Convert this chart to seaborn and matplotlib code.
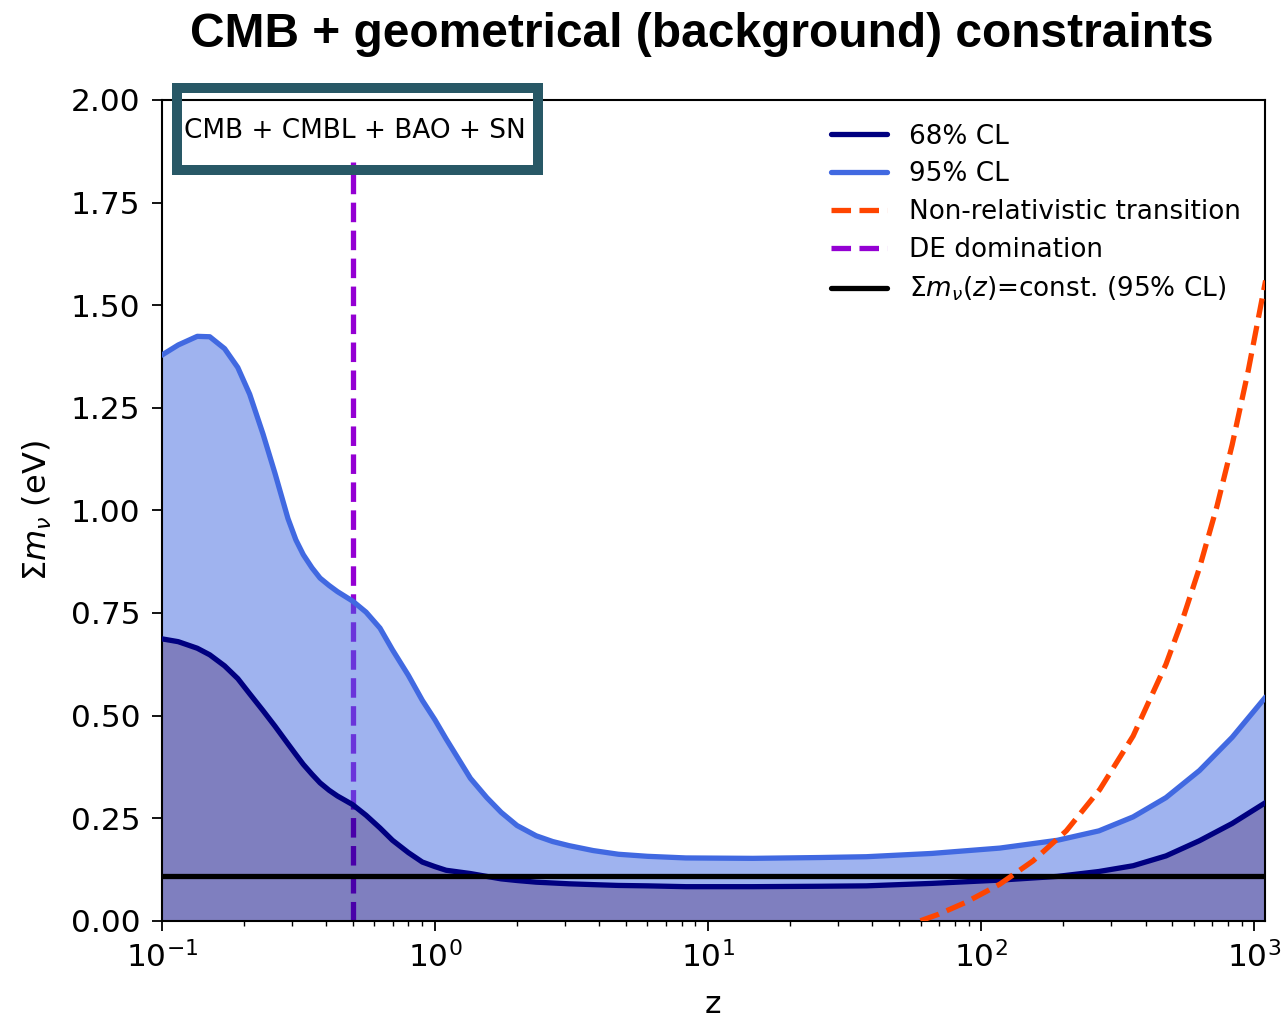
import matplotlib
matplotlib.use("Agg")
import matplotlib.pyplot as plt
from matplotlib.lines import Line2D
from matplotlib.patches import Rectangle
from matplotlib.ticker import FixedLocator, FormatStrFormatter
import pandas as pd
import seaborn as sns

# Redshift grid and the reconstructed bounds on the summed neutrino mass (eV)
z_grid = [0.10, 0.115, 0.135, 0.15, 0.17, 0.19, 0.21, 0.235, 0.26, 0.29,
          0.31, 0.33, 0.355, 0.38, 0.41, 0.44, 0.50, 0.56, 0.63, 0.70,
          0.80, 0.90, 1.0, 1.1, 1.35, 1.55, 1.75, 2.0, 2.35, 2.7,
          3.1, 3.8, 4.7, 6.0, 8.3, 14.6, 25.6, 38.0, 66.0, 117.0,
          190.0, 270.0, 360.0, 475.0, 630.0, 830.0, 1100.0]
mnu_95 = [1.378, 1.403, 1.424, 1.423, 1.394, 1.348, 1.283, 1.186, 1.090, 0.980,
          0.928, 0.892, 0.860, 0.835, 0.817, 0.802, 0.779, 0.752, 0.713, 0.660,
          0.598, 0.537, 0.490, 0.443, 0.347, 0.300, 0.264, 0.232, 0.207, 0.193,
          0.183, 0.171, 0.162, 0.157, 0.153, 0.152, 0.154, 0.156, 0.164, 0.177,
          0.196, 0.219, 0.253, 0.300, 0.366, 0.447, 0.545]
mnu_68 = [0.687, 0.680, 0.664, 0.648, 0.621, 0.590, 0.553, 0.512, 0.474, 0.431,
          0.405, 0.381, 0.357, 0.336, 0.318, 0.304, 0.283, 0.257, 0.226, 0.196,
          0.166, 0.143, 0.132, 0.123, 0.115, 0.108, 0.102, 0.098, 0.094, 0.092,
          0.090, 0.088, 0.086, 0.085, 0.083, 0.083, 0.084, 0.085, 0.091, 0.099,
          0.108, 0.120, 0.134, 0.158, 0.195, 0.237, 0.288]

# Mass at which neutrinos become non-relativistic at redshift z
z_nr = [60.0, 70.0, 88.0, 117.0, 155.0, 205.0, 272.0, 360.0, 475.0, 550.0,
        630.0, 730.0, 830.0, 950.0, 1100.0]
mnu_nr = [0.0, 0.016, 0.045, 0.089, 0.146, 0.219, 0.320, 0.450, 0.625, 0.740,
          0.860, 1.010, 1.160, 1.340, 1.560]

# Onset of dark-energy domination and the constant-mass bound
z_de = [0.5, 0.5]
mnu_de = [0.0, 1.85]
mnu_const_95 = 0.11

legend_labels = ["68% CL", "95% CL", "Non-relativistic transition",
                 "DE domination", r"$\Sigma m_\nu(z)$=const. (95% CL)"]
title_text = "CMB + geometrical (background) constraints"
dataset_text = "CMB + CMBL + BAO + SN"
y_ticks = [0.0, 0.25, 0.5, 0.75, 1.0, 1.25, 1.5, 1.75, 2.0]

bands = pd.DataFrame({"z": z_grid, "m95": mnu_95, "m68": mnu_68})
nr = pd.DataFrame({"z": z_nr, "m": mnu_nr})
de = pd.DataFrame({"z": z_de, "m": mnu_de})

sns.set_theme(style="ticks", rc={
    "axes.linewidth": 1.5,
    "xtick.major.size": 7.5, "ytick.major.size": 7.5,
    "xtick.minor.size": 3.5, "ytick.minor.size": 3.5,
    "xtick.major.width": 1.3, "ytick.major.width": 1.3,
    "xtick.minor.width": 1.0, "ytick.minor.width": 1.0,
    "xtick.major.pad": 7, "ytick.major.pad": 8,
    "xtick.labelsize": 22.5, "ytick.labelsize": 22.5,
    "axes.edgecolor": "black",
    "xtick.color": "black", "ytick.color": "black",
    "text.color": "black", "axes.labelcolor": "black",
})
plt.rcParams["font.family"] = ["DejaVu Sans"]
plt.rcParams["mathtext.fontset"] = "dejavusans"

fig = plt.figure(figsize=(12.82, 10.21), dpi=100)
ax = fig.add_axes([0.1261, 0.0982, 0.8606, 0.8039])

lw = 3.8

# DE-domination marker sits beneath the shaded bands
sns.lineplot(data=de, x="z", y="m", ax=ax, color="darkviolet", linewidth=lw,
             linestyle="--", sort=False, estimator=None, zorder=1)

ax.fill_between(bands["z"], 0, bands["m68"], color="navy", alpha=0.5, lw=0, zorder=2)
ax.fill_between(bands["z"], bands["m68"], bands["m95"], color="royalblue", alpha=0.5, lw=0, zorder=2)

sns.lineplot(data=bands, x="z", y="m95", ax=ax, color="royalblue", linewidth=lw, zorder=3)
sns.lineplot(data=bands, x="z", y="m68", ax=ax, color="navy", linewidth=lw, zorder=3)
ax.axhline(mnu_const_95, color="black", linewidth=lw, zorder=4)
sns.lineplot(data=nr, x="z", y="m", ax=ax, color="orangered", linewidth=lw,
             linestyle="--", zorder=5)

ax.set_xscale("log")
ax.set_xlim(0.1, 1094)
ax.set_ylim(0, 2.0)
ax.yaxis.set_major_locator(FixedLocator(y_ticks))
ax.yaxis.set_major_formatter(FormatStrFormatter("%.2f"))
ax.tick_params(which="both", direction="out")

ax.set_xlabel("z", fontsize=22.5, labelpad=12)
ax.set_ylabel(r"$\Sigma m_\nu$ (eV)", fontsize=23, labelpad=12)
ax.set_title(title_text, fontsize=34.5, fontweight="bold", color="black",
             family=["Liberation Sans", "DejaVu Sans"], pad=38, x=0.49)

handles = [
    Line2D([], [], color="navy", lw=lw),
    Line2D([], [], color="royalblue", lw=lw),
    Line2D([], [], color="orangered", lw=lw, linestyle="--"),
    Line2D([], [], color="darkviolet", lw=lw, linestyle="--"),
    Line2D([], [], color="black", lw=lw),
]
ax.legend(handles, legend_labels, loc="upper right", frameon=False, fontsize=18.9,
          handlelength=2.13, handletextpad=0.84, labelspacing=0.45)

ax.text(0.1752, 0.9622, dataset_text, transform=ax.transAxes, ha="center",
        va="center", fontsize=18.9, color="black", zorder=10)
ax.add_patch(Rectangle((0.01387, 0.9147), 0.3272, 0.0999, transform=ax.transAxes,
                       fill=False, edgecolor="#285866", lw=7.2, clip_on=False,
                       zorder=11, joinstyle="miter"))

fig.savefig("out.png", dpi=100)
